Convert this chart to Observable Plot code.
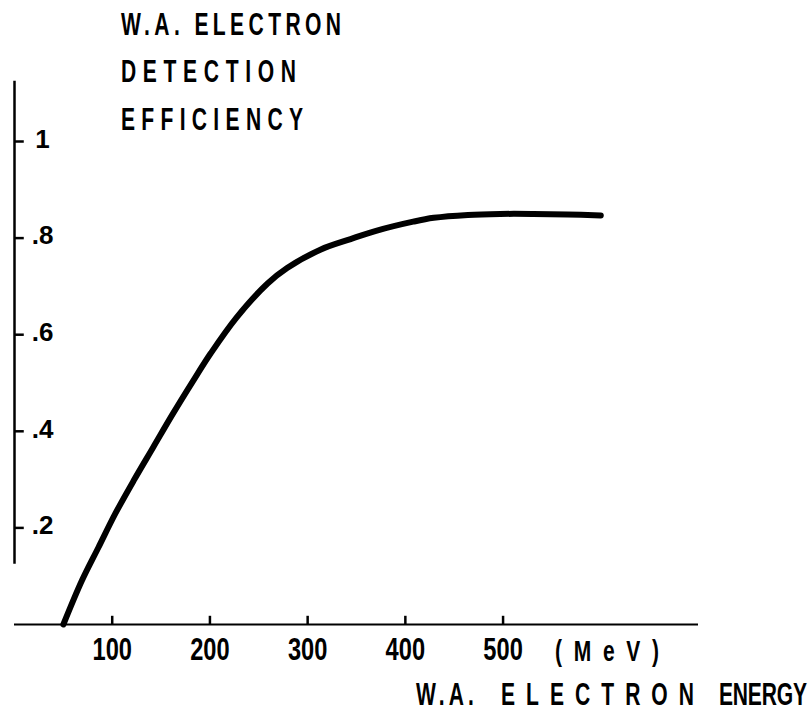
<!DOCTYPE html>
<html>
<head>
<meta charset="utf-8">
<script src="https://cdn.jsdelivr.net/npm/d3@7"></script>
<script src="https://cdn.jsdelivr.net/npm/@observablehq/plot@0.6"></script>
<style>
  html, body { margin: 0; padding: 0; background: #fff; }
</style>
</head>
<body>
<div id="chart"></div>
<script>
// Data
const energy = [50, 69, 86, 103, 122, 142, 162, 183, 201, 227, 259, 279, 313, 344, 370, 408, 429, 464, 497, 531, 566, 600];
const efficiency = [0, 0.091, 0.160, 0.229, 0.298, 0.367, 0.436, 0.505, 0.562, 0.635, 0.706, 0.738, 0.776, 0.798, 0.815, 0.834, 0.842, 0.848, 0.850, 0.850, 0.849, 0.847];

const xTicks = [100, 200, 300, 400, 500];
const yTicks = [0.2, 0.4, 0.6, 0.8, 1];
const yTickLabels = [".2", ".4", ".6", ".8", "1"];
const titleLines = ["W.A. ELECTRON", "DETECTION", "EFFICIENCY"];
const xLabelWords = ["W.A.", "ELECTRON", "ENERGY"];
const unitLabel = "(MeV)";

const curve = energy.map((e, i) => ({energy: e, efficiency: efficiency[i]}));
const FONT = "'Liberation Sans', Arial, Helvetica, sans-serif";
const ink = "#000";

const svg = Plot.plot({
  width: 812,
  height: 713,
  marginLeft: 14,
  marginRight: 114,
  marginTop: 44.4,
  marginBottom: 89,
  style: {fontFamily: FONT, background: "#fff", color: ink},
  x: {domain: [0, 700], label: null},
  y: {domain: [0, 1.2], axis: null, label: null},
  marks: [
    Plot.ruleY([0], {stroke: ink, strokeWidth: 2}),
    Plot.ruleX([0], {y1: 0.125, y2: 1.125, stroke: ink, strokeWidth: 2.5}),
    Plot.ruleY(yTicks, {x1: 0, x2: 10, stroke: ink, strokeWidth: 2.5}),
    Plot.ruleX(xTicks, {y1: 0, y2: 0.017, stroke: ink, strokeWidth: 2.5}),
    Plot.text(yTicks, {x: 0, y: d => d, text: (d, i) => yTickLabels[i], dx: 28, dy: -2,
      textAnchor: "middle", fontSize: 26, fontWeight: "bold", fill: ink}),
    Plot.axisX({ticks: xTicks, tickSize: 0, tickPadding: 13, label: null,
      fontSize: 32, fontWeight: "bold", fill: ink}),
    Plot.line(curve, {x: "energy", y: "efficiency", curve: "catmull-rom",
      stroke: ink, strokeWidth: 6, strokeLinecap: "round", strokeLinejoin: "round"})
  ]
});

document.getElementById("chart").appendChild(svg);

const sel = d3.select(svg);
// condense x tick labels like the original lettering
sel.selectAll('g[aria-label="x-axis tick label"] text').each(function () {
  const t = this.getAttribute("transform") || "";
  this.setAttribute("transform", t + " scale(0.74,1)");
  this.setAttribute("font-size", 32);
  this.setAttribute("font-weight", "bold");
});

function addLabel(str, x, baseline, size, sx, width) {
  sel.append("text")
    .attr("transform", `translate(${x},${baseline}) scale(${sx},1)`)
    .attr("text-anchor", "start")
    .attr("font-family", FONT)
    .attr("font-size", size)
    .attr("font-weight", "bold")
    .attr("fill", ink)
    .attr("textLength", width / sx)
    .attr("lengthAdjust", "spacing")
    .text(str);
}

addLabel(titleLines[0], 121, 35, 31, 0.68, 220);
addLabel(titleLines[1], 121, 82, 31, 0.68, 175);
addLabel(titleLines[2], 121, 130, 31, 0.68, 182);
addLabel(xLabelWords[0], 416, 705, 31, 0.68, 58);
addLabel(xLabelWords[1], 501, 705, 31, 0.68, 193);
addLabel(xLabelWords[2], 719, 705, 31, 0.68, 88);
addLabel(unitLabel, 555, 661, 30, 0.7, 104);
</script>
</body>
</html>
